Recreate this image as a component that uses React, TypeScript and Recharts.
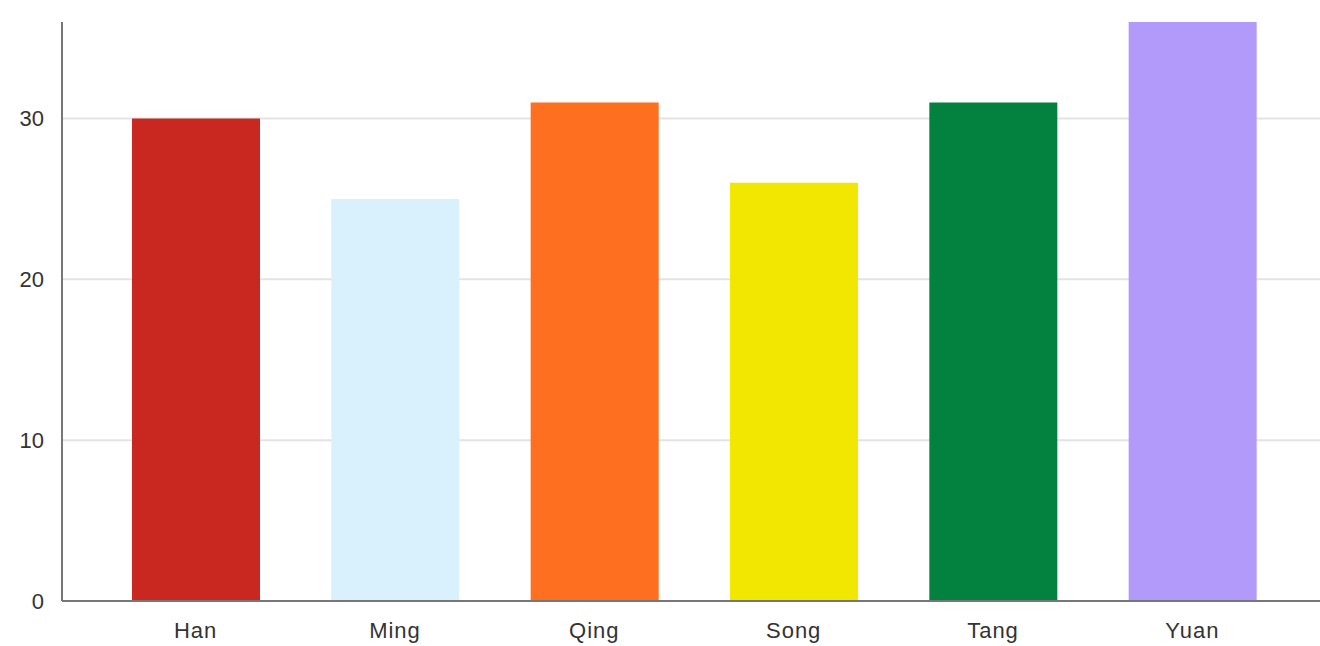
import { BarChart, Bar, XAxis, YAxis, CartesianGrid, Cell } from "recharts";

const dynasties = ["Han", "Ming", "Qing", "Song", "Tang", "Yuan"];
const counts = [30, 25, 31, 26, 31, 36];
const barColors = ["#c8281f", "#d9f1fc", "#fe6f1f", "#f1e700", "#02813f", "#b29afa"];
const yTicks = [0, 10, 20, 30];
const gridLines = [10, 20, 30];

const data = dynasties.map((name, i) => ({ name, count: counts[i] }));

const tickStyle = { fontSize: 22, fill: "#333", fontFamily: "Liberation Sans, Arial, sans-serif" };

export default function App() {
  return (
    <div style={{ position: "fixed", left: 0, top: 0, background: "#fff" }}>
      <BarChart
        width={1320}
        height={646}
        data={data}
        barSize={128}
        margin={{ top: 22, right: 0, left: 0, bottom: 0 }}
      >
        <CartesianGrid vertical={false} horizontalValues={gridLines} stroke="#e3e3e3" strokeWidth={2} />
        <XAxis
          dataKey="name"
          height={45}
          padding={{ left: 34, right: 28 }}
          tick={{ ...tickStyle, letterSpacing: 1 }}
          tickLine={false}
          tickSize={0}
          tickMargin={21}
          axisLine={{ stroke: "#777", strokeWidth: 2 }}
        />
        <YAxis
          width={62}
          domain={[0, 36]}
          ticks={yTicks}
          tick={tickStyle}
          tickLine={false}
          tickSize={0}
          tickMargin={18}
          axisLine={{ stroke: "#777", strokeWidth: 2 }}
        />
        <Bar dataKey="count" isAnimationActive={false}>
          {data.map((d, i) => (
            <Cell key={d.name} fill={barColors[i]} />
          ))}
        </Bar>
      </BarChart>
    </div>
  );
}
